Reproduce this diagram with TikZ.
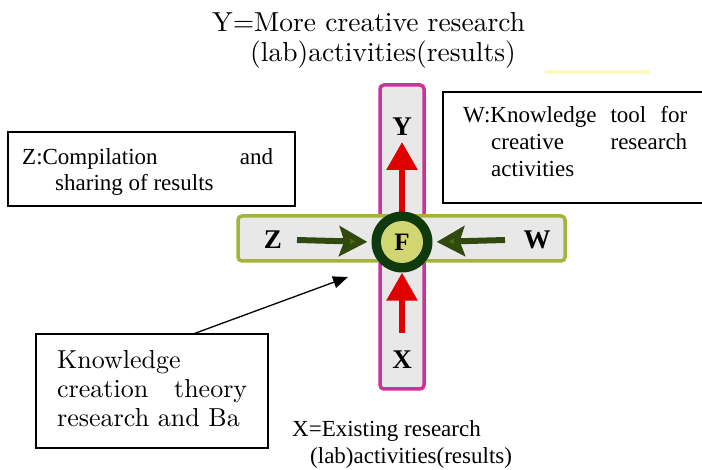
\documentclass[tikz,border=0pt]{standalone}
\usepackage{fontspec}
\newfontfamily\tnr{Liberation Serif}
\newfontfamily\lmten{lmroman10-regular}[Extension=.otf]
\usetikzlibrary{arrows.meta,calc}
\definecolor{magbar}{HTML}{CC3399}
\definecolor{olivebar}{HTML}{A4B43A}
\definecolor{barfill}{HTML}{E8E8E8}
\definecolor{ringgreen}{HTML}{0E3A0E}
\definecolor{corefill}{HTML}{D2D672}
\definecolor{arrowgreen}{HTML}{2F4A0C}
\definecolor{headgreen}{HTML}{4F6A12}
\definecolor{arrowred}{HTML}{E00000}
\definecolor{paleyellow}{HTML}{FFF8C0}
\begin{document}
\begin{tikzpicture}[x=1pt,y=-1pt,
  box/.style={draw=black,line width=1.3pt,fill=white,inner sep=0pt,outer sep=0pt},
  bar/.style={line width=3.5pt,fill=barfill,rounded corners=4pt,inner sep=0pt,outer sep=0pt},
  tline/.style={font=\tnr\fontsize{23}{27}\selectfont,anchor=base west,inner sep=0pt},
  cline/.style={font=\lmten\fontsize{26}{29}\selectfont,anchor=base west,inner sep=0pt},
  hline/.style={font=\lmten\fontsize{27.5}{30}\selectfont,anchor=base west,inner sep=0pt},
  letter/.style={font=\tnr\bfseries\fontsize{27}{27}\selectfont,inner sep=0pt},
  garrow/.style={draw=arrowgreen,line width=6pt,-{Stealth[length=28pt,width=30pt,inset=5pt,fill=headgreen]}},
  rarrow/.style={draw=arrowred,line width=6pt,-{Triangle[length=28pt,width=30pt]}},
  karrow/.style={draw=black,line width=1.3pt,-{Triangle[length=15pt,width=12pt]}},
]
\useasboundingbox (0,0) rectangle (702,470);
\fill[white] (0,0) rectangle (702,470);
\fill[paleyellow] (545,70) rectangle (650,74);

% top label
\node[hline] (ylab1) at (212,32) {Y=More creative research};
\node[hline] (ylab2) at (250,62) {(lab)activities(results)};

% bars
\node[bar,draw=magbar,minimum width=44pt,minimum height=304pt] (vbar) at (402,237) {};
\node[bar,draw=olivebar,minimum width=327pt,minimum height=45pt] (hbar) at (401.5,238.5) {};

% arrows (under the circle)
\coordinate (ytip) at (402,142);
\coordinate (xtail) at (402,333);
\coordinate (ztail) at (297,240);
\coordinate (wtail) at (505,240);
\draw[rarrow] (402,242) -- (ytip);

% centre circle
\node[circle,fill=ringgreen,minimum size=61pt,inner sep=0pt] (fring) at (402,242) {};
\node[circle,fill=corefill,minimum size=42pt,inner sep=0pt,font=\tnr\bfseries\fontsize{25}{25}\selectfont] (fcore) at (402,242) {F};

\draw[rarrow] (xtail) -- (fring.south);
\draw[garrow,shorten >=4pt] (ztail) -- (fring.west);
\draw[garrow,shorten >=4pt] (wtail) -- (fring.east);

% letters
\node[letter] (yl) at (402,127) {Y};
\node[letter] (xl) at (402,360) {X};
\node[letter] (zl) at (273,240) {Z};
\node[letter] (wl) at (537,240) {W};

% Z box
\node[box,minimum width=287pt,minimum height=74pt] (zbox) at (151.5,169) {};
\begin{scope}
\clip (8,132) rectangle (295,197);
\node[tline] (z1) at (22,165) {\makebox[251pt][s]{Z:Compilation and}};
\node[tline] (z2) at (55,191) {sharing of results};
\end{scope}

% W box
\node[box,minimum width=270pt,minimum height=111pt] (wbox) at (578,147.5) {};
\node[tline] (w1) at (463,123) {\makebox[224pt][s]{W:Knowledge tool for}};
\node[tline] (w2) at (491,150) {\makebox[196pt][s]{creative research}};
\node[tline] (w3) at (491,177) {activities};

% Knowledge box
\node[box,minimum width=232pt,minimum height=114pt] (kbox) at (152,391) {};
\node[cline] (k1) at (57,369) {Knowledge};
\node[cline] (k2) at (57,398) {\makebox[190pt][s]{creation theory}};
\node[cline] (k3) at (57,427) {research and Ba};
\coordinate (ktip) at (348,277);
\draw[karrow] ($(kbox.north west)!0.677!(kbox.north east)$) -- (ktip);

% bottom label
\node[tline] (xlab1) at (292,437) {X=Existing research};
\node[tline] (xlab2) at (310,464) {(lab)activities(results)};
\end{tikzpicture}
\end{document}
